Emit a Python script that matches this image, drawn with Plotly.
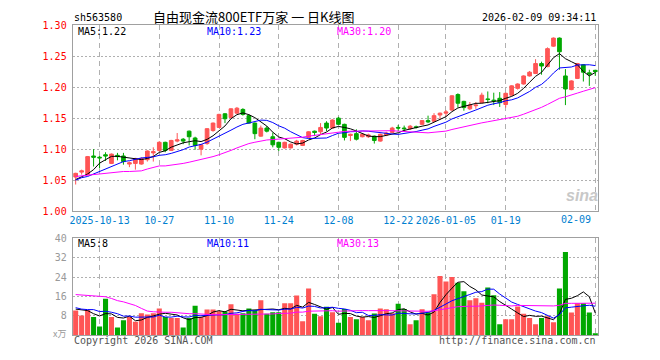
import pandas as pd
import plotly.graph_objects as go

# ---------------- data ----------------
holidays = ["2025-10-01", "2025-10-02", "2025-10-03", "2025-10-06", "2025-10-07",
            "2025-10-08", "2026-01-01", "2026-01-02"]
dates = [d.strftime("%Y-%m-%d") for d in pd.bdate_range("2025-09-29", "2026-02-09")
         if d.strftime("%Y-%m-%d") not in holidays]

opens = [1.055, 1.063, 1.059, 1.089, 1.087, 1.091, 1.077, 1.090, 1.089, 1.076,
         1.077, 1.076, 1.083, 1.094, 1.098, 1.111, 1.098, 1.113, 1.116, 1.129,
         1.118, 1.100, 1.109, 1.130, 1.135, 1.157, 1.151, 1.158, 1.164, 1.154,
         1.142, 1.121, 1.134, 1.120, 1.111, 1.102, 1.102, 1.108, 1.106, 1.119,
         1.129, 1.128, 1.142, 1.134, 1.150, 1.140, 1.122, 1.125, 1.120, 1.120,
         1.121, 1.113, 1.123, 1.127, 1.135, 1.134, 1.133, 1.136, 1.140, 1.146,
         1.145, 1.155, 1.158, 1.163, 1.188, 1.177, 1.165, 1.170, 1.175, 1.181,
         1.179, 1.182, 1.172, 1.187, 1.198, 1.205, 1.218, 1.222, 1.238, 1.233,
         1.266, 1.279, 1.218, 1.196, 1.214, 1.236, 1.223, 1.227]
highs = [1.062, 1.067, 1.089, 1.100, 1.089, 1.095, 1.093, 1.094, 1.094, 1.080,
         1.086, 1.087, 1.098, 1.103, 1.113, 1.112, 1.115, 1.126, 1.118, 1.130,
         1.120, 1.108, 1.134, 1.143, 1.157, 1.158, 1.166, 1.168, 1.166, 1.156,
         1.143, 1.138, 1.137, 1.127, 1.112, 1.112, 1.109, 1.115, 1.115, 1.129,
         1.130, 1.142, 1.145, 1.148, 1.152, 1.141, 1.125, 1.132, 1.125, 1.125,
         1.122, 1.125, 1.128, 1.136, 1.139, 1.138, 1.139, 1.138, 1.147, 1.154,
         1.158, 1.159, 1.163, 1.187, 1.190, 1.178, 1.176, 1.176, 1.191, 1.193,
         1.191, 1.192, 1.191, 1.203, 1.206, 1.219, 1.226, 1.245, 1.241, 1.264,
         1.280, 1.280, 1.229, 1.211, 1.239, 1.237, 1.228, 1.228]
lows = [1.043, 1.059, 1.058, 1.072, 1.069, 1.081, 1.076, 1.082, 1.075, 1.071,
        1.067, 1.075, 1.080, 1.080, 1.096, 1.095, 1.097, 1.111, 1.108, 1.106,
        1.099, 1.090, 1.107, 1.128, 1.134, 1.142, 1.150, 1.157, 1.154, 1.141,
        1.116, 1.120, 1.127, 1.103, 1.097, 1.101, 1.101, 1.106, 1.105, 1.118,
        1.121, 1.124, 1.129, 1.133, 1.139, 1.114, 1.113, 1.114, 1.119, 1.118,
        1.109, 1.112, 1.121, 1.126, 1.129, 1.129, 1.131, 1.133, 1.139, 1.142,
        1.144, 1.147, 1.153, 1.162, 1.167, 1.162, 1.163, 1.165, 1.174, 1.174,
        1.171, 1.168, 1.167, 1.186, 1.196, 1.204, 1.217, 1.221, 1.220, 1.232,
        1.265, 1.228, 1.171, 1.195, 1.213, 1.209, 1.202, 1.218]
closes = [1.061, 1.065, 1.088, 1.087, 1.086, 1.089, 1.092, 1.088, 1.080, 1.078,
          1.085, 1.085, 1.097, 1.096, 1.111, 1.098, 1.114, 1.115, 1.113, 1.120,
          1.106, 1.107, 1.133, 1.142, 1.156, 1.149, 1.165, 1.166, 1.156, 1.142,
          1.125, 1.134, 1.129, 1.107, 1.103, 1.111, 1.108, 1.113, 1.114, 1.128,
          1.127, 1.135, 1.134, 1.147, 1.140, 1.119, 1.124, 1.116, 1.124, 1.123,
          1.114, 1.124, 1.126, 1.134, 1.134, 1.133, 1.137, 1.135, 1.146, 1.144,
          1.154, 1.158, 1.160, 1.186, 1.174, 1.167, 1.171, 1.171, 1.187, 1.180,
          1.178, 1.175, 1.190, 1.202, 1.205, 1.218, 1.224, 1.238, 1.234, 1.262,
          1.279, 1.257, 1.197, 1.210, 1.238, 1.224, 1.221, 1.225]
volumes = [10.2, 8.2, 10.4, 7.5, 3.6, 15.1, 7.5, 3.2, 6.2, 7.5,
           5.6, 9.1, 8.6, 9.1, 11.1, 7.5, 7.1, 7.1, 3.2, 7.1,
           12.2, 7.5, 10.6, 10.6, 9.9, 9.8, 12.8, 8.9, 9.1, 11.1,
           10.2, 14.5, 8.9, 9.5, 9.5, 13.2, 13.2, 16.4, 5.8, 19.3,
           8.9, 7.9, 11.8, 9.5, 5.2, 10.8, 7.5, 6.6, 7.5, 6.2,
           9.0, 11.1, 10.7, 9.1, 13.0, 10.8, 4.6, 6.2, 10.7, 9.5,
           16.9, 24.5, 22.2, 24.1, 21.7, 18.2, 14.5, 15.3, 13.4, 19.7,
           16.5, 4.6, 6.6, 6.6, 11.9, 8.9, 7.1, 4.6, 7.1, 7.9,
           5.4, 19.3, 34.4, 9.4, 13.2, 13.2, 9.4, 0.7]

ma5_head = [1.051, 1.056, 1.060, 1.067]
ma10_head = [1.050, 1.054, 1.056, 1.060, 1.064, 1.068, 1.072, 1.076, 1.080]
ma30_head = [1.056, 1.057, 1.058, 1.060, 1.061, 1.062, 1.063, 1.063, 1.064, 1.064,
             1.064, 1.065, 1.068, 1.071, 1.073, 1.073, 1.074, 1.075, 1.077, 1.079,
             1.081, 1.083, 1.085, 1.088, 1.091, 1.094, 1.098, 1.102, 1.106]
vma5_head = [10.8, 10.6, 10.2, 8.9]
vma10_head = [11.4, 10.8, 10.6, 10.6, 9.8, 9.9, 9.5, 8.9, 7.9]
vma30_head = [16.8, 16.6, 16.4, 16.3, 16.1, 15.9, 15.2, 14.3, 13.8, 13.2,
              12.3, 11.1, 10.0, 9.7, 9.5, 9.5, 9.5, 9.3, 8.9, 8.9,
              8.9, 8.7, 8.5, 8.5, 8.5, 8.5, 8.5, 8.5, 8.5]

tick_dates = ["2025-10-13", "2025-10-27", "2025-11-10", "2025-11-24", "2025-12-08",
              "2025-12-22", "2026-01-05", "2026-01-19", "2026-02-09"]
tick_text = ["2025-10-13", "10-27", "11-10", "11-24", "12-08", "12-22",
             "2026-01-05", "01-19", ""]
last_label = "02-09"
price_ticks = [1.00, 1.05, 1.10, 1.15, 1.20, 1.25, 1.30]
vol_ticks = [8, 16, 24, 32, 40]


def moving(vals, n, head):
    out = []
    for i in range(len(vals)):
        if i < len(head):
            out.append(head[i])
        else:
            w = vals[i - n + 1:i + 1]
            out.append(sum(w) / n)
    return out


ma5 = moving(closes, 5, ma5_head)
ma10 = moving(closes, 10, ma10_head)
ma30 = moving(closes, 30, ma30_head)
vma5 = moving(volumes, 5, vma5_head)
vma10 = moving(volumes, 10, vma10_head)
vma30 = moving(volumes, 30, vma30_head)

# ---------------- style ----------------
RED = "#FF5555"
GREEN = "#00A800"
BLUE = "#0000FF"
MAG = "#FF00FF"
GRID = "#B0B0B0"
BORDER = "#A0A0A0"
MONO = "DejaVu Sans Mono"
W, H = 660, 360
L, R = 70, 598


def px(x):
    return x / W


def py(y):
    return 1 - y / H


fig = go.Figure()
fig.add_trace(go.Candlestick(
    x=dates, open=opens, high=highs, low=lows, close=closes,
    increasing=dict(line=dict(color=RED, width=1), fillcolor=RED),
    decreasing=dict(line=dict(color=GREEN, width=1), fillcolor=GREEN),
    whiskerwidth=0, xaxis="x", yaxis="y", hoverinfo="skip"))
for vals, col in [(ma5, "black"), (ma10, BLUE), (ma30, MAG)]:
    fig.add_trace(go.Scatter(x=dates, y=vals, mode="lines",
                             line=dict(color=col, width=1), xaxis="x", yaxis="y",
                             hoverinfo="skip"))

vcolors = [RED if c >= o else GREEN for o, c in zip(opens, closes)]
fig.add_trace(go.Bar(x=dates, y=volumes, marker=dict(color=vcolors, line=dict(width=0)),
                     xaxis="x2", yaxis="y2", hoverinfo="skip"))
for vals, col in [(vma5, "black"), (vma10, BLUE), (vma30, MAG)]:
    fig.add_trace(go.Scatter(x=dates, y=vals, mode="lines",
                             line=dict(color=col, width=1), xaxis="x2", yaxis="y2",
                             hoverinfo="skip"))

axis_common = dict(type="category", range=[-0.5, len(dates) - 0.5],
                   domain=[px(L), px(R)], tickvals=tick_dates,
                   showgrid=True, gridcolor=GRID, griddash="5px,4px", gridwidth=1,
                   showline=True, mirror=True, linecolor=BORDER, linewidth=1,
                   ticks="", zeroline=False, fixedrange=True)

fig.update_layout(
    width=W, height=H, margin=dict(l=0, r=0, t=0, b=0),
    paper_bgcolor="white", plot_bgcolor="white", showlegend=False,
    boxgap=0.12, bargap=0.15,
    xaxis=dict(**axis_common, anchor="y", ticktext=tick_text,
               tickfont=dict(family=MONO, size=10, color="#0080D0"),
               rangeslider=dict(visible=False)),
    yaxis=dict(domain=[py(212.7), py(20.7)], range=[1.0, 1.3], tickvals=price_ticks,
               ticktext=[f"{v:.2f}" for v in price_ticks], anchor="x",
               tickfont=dict(family=MONO, size=10, color="#FF0000"),
               showgrid=True, gridcolor=GRID, griddash="2px,2px",
               showline=True, mirror=True, linecolor=BORDER, ticks="",
               ticklabelstandoff=3, zeroline=False, fixedrange=True),
    xaxis2=dict(**axis_common, anchor="y2", showticklabels=False),
    yaxis2=dict(domain=[py(340.7), py(240.7)], range=[0, 40], tickvals=vol_ticks,
                ticktext=[str(v) for v in vol_ticks], anchor="x2",
                tickfont=dict(family=MONO, size=10, color="#999999"),
                showgrid=True, gridcolor=GRID, griddash="2px,2px",
                showline=True, mirror=True, linecolor=BORDER, ticks="",
                ticklabelstandoff=3, zeroline=False, fixedrange=True),
)


def note(text, x, y, color="black", anchor="left", size=10, family=MONO, **kw):
    fig.add_annotation(text=text, x=px(x), y=py(y), xref="paper", yref="paper",
                       xanchor=anchor, yanchor="middle", showarrow=False, borderpad=0,
                       font=dict(family=family, size=size, color=color), **kw)


note("sh563580", 70, 13)
note("自由现金流800ETF万家 一 日K线图", 252, 12, anchor="center", size=13,
     family="Noto Sans CJK SC")
note("2026-02-09 09:34:11", 597, 13, anchor="right")
note("MA5:1.22", 74, 27)
note("MA10:1.23", 204, 27, color=BLUE)
note("MA30:1.20", 335, 27, color=MAG)
note("MA5:8", 74, 246)
note("MA10:11", 204, 246, color=BLUE)
note("MA30:13", 335, 246, color=MAG)
note("x万", 64, 339, color="#999999", anchor="right", family="Noto Sans CJK SC", size=9)
note("Copyright 2026 SINA.COM", 70, 346, color="#555555")
note("http://finance.sina.com.cn", 597, 346, color="#555555", anchor="right")
note("<b><i>sina</i></b>", 582, 197, color="#C8C8C8", anchor="center", size=16,
     family="Liberation Sans")

fig.add_annotation(text=last_label, x=dates[-1], y=py(221.5), xref="x", yref="paper",
                   xanchor="right", yanchor="middle", xshift=-2, showarrow=False,
                   font=dict(family=MONO, size=10, color="#0080D0"))

fig.write_html("out.html", config={"displayModeBar": False},
               post_script="document.body.style.margin='0';document.body.style.padding='0';")
